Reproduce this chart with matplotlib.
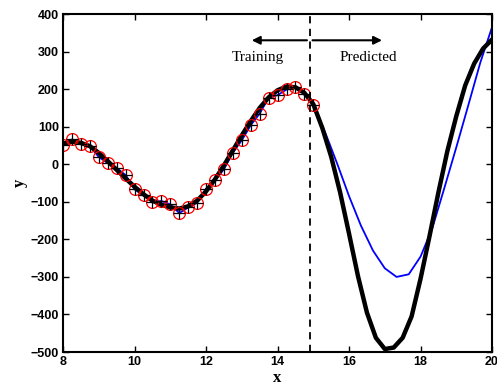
import numpy as np
import matplotlib.pyplot as plt

# training samples (circles and plus markers)
train_x = np.arange(8.0, 15.01, 0.25)
train_y = [51, 66, 53, 49, 19, 3, -10, -29, -67, -83, -100, -98, -107, -130, -115,
           -102, -65, -43, -13, 31, 64, 104, 135, 177, 184, 199, 206, 187, 159]

# true function (thick black)
true_x = np.arange(8.0, 20.01, 0.25)
true_y = [55, 60, 57, 48, 30, 8, -15, -38, -60, -80, -97, -108, -115, -118, -112,
          -97, -72, -40, -3, 37, 77, 115, 150, 178, 197, 207, 205, 190, 160,
          97, 20, -75, -185, -298, -395, -462, -492, -488, -462, -405, -305,
          -192, -75, 35, 128, 210, 268, 308, 332]

# prediction (blue)
pred_x = [15.0, 15.33, 15.67, 16.0, 16.33, 16.67, 17.0, 17.33, 17.67, 18.0,
          18.33, 18.67, 19.0, 19.33, 19.67, 20.0]
pred_y = [159, 85, 1, -85, -163, -230, -277, -300, -293, -246, -170, -62,
          45, 155, 270, 365]

split_x = 14.9

fig = plt.figure(figsize=(4.97, 3.89), dpi=100)
ax = fig.add_axes([0.127, 0.095, 0.863, 0.869])

ax.plot(list(train_x) + pred_x[1:], train_y + pred_y[1:], color="blue", linewidth=1.3)
ax.plot(true_x, true_y, color="black", linewidth=3.2)
ax.plot(train_x, train_y, "o", markerfacecolor="none", markeredgecolor="red",
        markersize=8.5, markeredgewidth=0.9)
ax.plot(train_x, train_y, "+", color="black", markersize=8, markeredgewidth=0.9)

ax.axvline(split_x, color="black", linestyle=(0, (4, 3)), linewidth=1.3)

ax.annotate("", xy=(13.2, 330), xytext=(split_x, 330),
            arrowprops=dict(arrowstyle="-|>", color="black", lw=1.5, mutation_scale=12))
ax.annotate("", xy=(17.0, 330), xytext=(split_x, 330),
            arrowprops=dict(arrowstyle="-|>", color="black", lw=1.5, mutation_scale=12))
ax.text(13.45, 285, "Training", ha="center", va="center", family="Liberation Serif", fontsize=11)
ax.text(16.55, 285, "Predicted", ha="center", va="center", family="Liberation Serif", fontsize=11)

ax.set_xlim(8, 20)
ax.set_ylim(-500, 400)
ax.set_xticks(np.arange(8, 21, 2))
ax.set_yticks(np.arange(-500, 401, 100))
ax.tick_params(direction="in", top=True, right=True, length=4, width=1, labelsize=9, pad=3)
for lab in ax.get_xticklabels() + ax.get_yticklabels():
    lab.set_family("Liberation Sans")
    lab.set_fontweight("bold")
for s in ax.spines.values():
    s.set_linewidth(1.5)

ax.set_xlabel("x", family="Liberation Serif", fontweight="bold", fontsize=12, labelpad=1)
ax.set_ylabel("y", family="Liberation Serif", fontweight="bold", fontsize=12, labelpad=2)

fig.savefig("out.png", dpi=100)
